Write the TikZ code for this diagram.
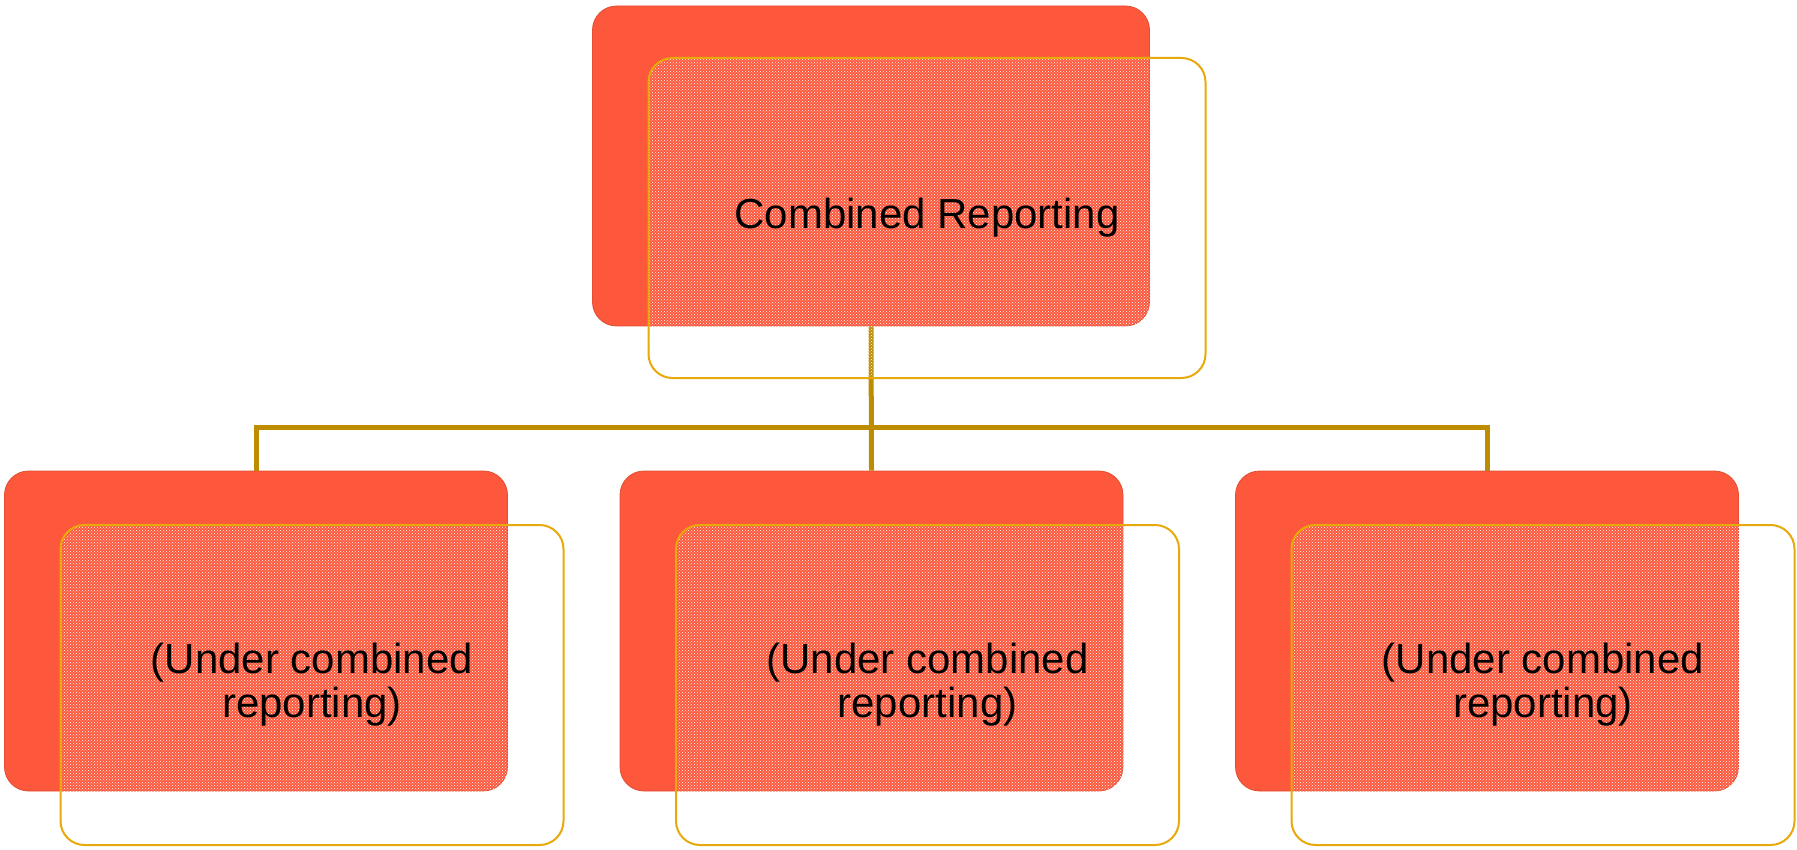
\documentclass[tikz,border=0pt]{standalone}
\usepackage{fontspec}
\setmainfont{Liberation Sans}
\usetikzlibrary{patterns,calc}

\definecolor{boxred}{RGB}{254,88,60}
\definecolor{boxedge}{RGB}{225,78,52}
\definecolor{framegold}{RGB}{232,170,10}
\definecolor{linkgold}{RGB}{190,140,0}

\tikzset{
  redbox/.style={rectangle, rounded corners=24pt, fill=boxred, draw=boxedge,
    line width=0.8pt, inner sep=0pt},
  framebox/.style={rectangle, rounded corners=24pt, draw=framegold, line width=2pt,
    pattern=crosshatch dots, pattern color=white, inner sep=0pt,
    font=\fontsize{42}{44}\selectfont, align=center, text=black},
  topsize/.style={minimum width=557pt, minimum height=320pt},
  subsize/.style={minimum width=503pt, minimum height=320pt},
  conn/.style={draw=linkgold, line width=5pt},
}

\begin{document}
\begin{tikzpicture}[x=1pt, y=-1pt]
  \useasboundingbox (0,0) rectangle (1797,850);

  % solid back panels
  \node[redbox, topsize] (top) at (871,166) {};
  \node[redbox, subsize] (c1) at (256,631) {};
  \node[redbox, subsize] (c2) at (871.5,631) {};
  \node[redbox, subsize] (c3) at (1487,631) {};

  % tree connectors
  \coordinate (bus) at (0,427);
  \draw[conn] (c1.north) -- (c1.north |- bus) -- (c3.north |- bus) -- (c3.north);
  \draw[conn] (top.south) -- (c2.north);

  % dotted front frames carrying the labels
  \node[framebox, topsize] (topf) at (927,218) {Combined Reporting};
  \node[framebox, subsize] (f1) at (312,685) {(Under combined\\reporting)};
  \node[framebox, subsize] (f2) at (927.5,685) {(Under combined\\reporting)};
  \node[framebox, subsize] (f3) at (1543,685) {(Under combined\\reporting)};
\end{tikzpicture}
\end{document}
